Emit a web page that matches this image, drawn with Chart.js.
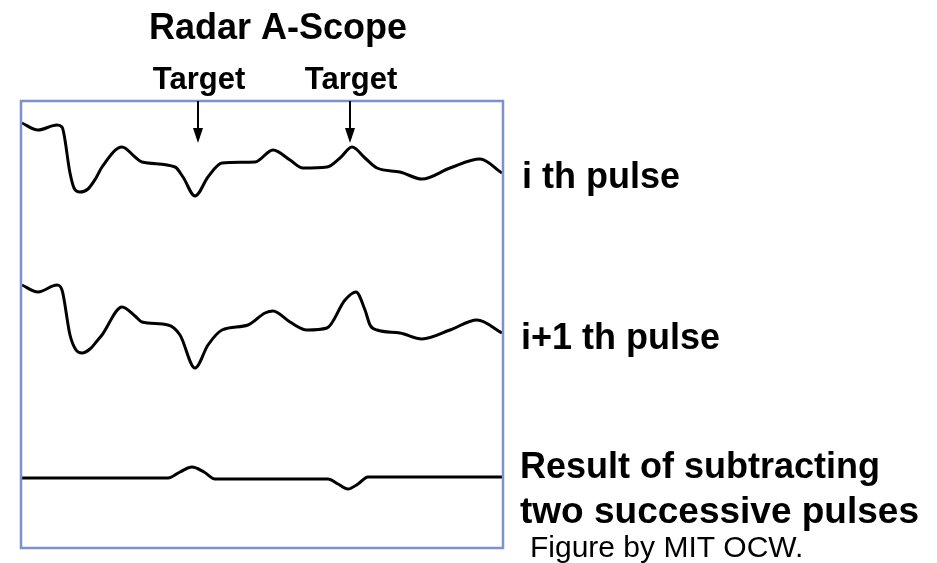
<!DOCTYPE html>
<html>
<head>
<meta charset="utf-8">
<script src="https://cdn.jsdelivr.net/npm/chart.js@4"></script>
<style>
  body { margin: 0; background: #fff; }
  #wrap { width: 937px; height: 563px; }
</style>
</head>
<body>
<div id="wrap"><canvas id="canvas" width="937" height="563"></canvas></div>
<script>
// range (sweep position) and amplitude
let pulse1_x = [0, 16, 35, 40, 48, 52, 58, 66, 74, 80, 100, 113, 120, 153, 161, 173, 186, 200, 233, 251, 268, 281, 305, 318, 330, 343, 355, 378, 400, 428, 458, 480];
let pulse1_y = [425, 418, 423, 421, 375, 360, 356, 359, 370, 381, 401, 391, 386, 381, 371, 352, 371, 385, 386, 398, 388, 380, 381, 390, 401, 390, 380, 376, 369, 380, 389, 375];

let pulse2_x = [0, 16, 35, 40, 48, 54, 60, 68, 75, 80, 100, 113, 120, 146, 158, 173, 186, 200, 226, 243, 251, 268, 285, 305, 323, 334, 343, 348, 355, 378, 400, 428, 455, 480];
let pulse2_y = [263, 256, 263, 258, 213, 198, 195, 199, 207, 213, 241, 232, 226, 223, 213, 180, 203, 218, 223, 235, 237, 226, 218, 220, 248, 256, 238, 223, 218, 215, 209, 218, 228, 215];

let diff_x = [0, 146, 158, 170, 182, 193, 306, 316, 326, 336, 346, 480];
let diff_y = [70, 70, 76, 81, 76, 69, 69, 64, 59, 64, 71, 71];

let targets = [176, 328];
let target_labels = ['Target', 'Target'];
let trace_labels = [['i th pulse'], ['i+1 th pulse'], ['Result of subtracting', 'two successive pulses']];

function toPoints(xs, ys) {
  let pts = [];
  for (let i = 0; i < xs.length; i++) {
    pts.push({x: xs[i], y: ys[i]});
  }
  return pts;
}

let scopeDecor = {
  id: 'scopeDecor',
  afterDraw(chart) {
    let ctx = chart.ctx;
    let a = chart.chartArea;
    let xs = chart.scales.x;

    ctx.save();
    // scope frame
    ctx.strokeStyle = '#7d91cd';
    ctx.lineWidth = 2.5;
    ctx.strokeRect(a.left, a.top, a.right - a.left, a.bottom - a.top);

    ctx.fillStyle = '#000';
    ctx.strokeStyle = '#000';
    ctx.textBaseline = 'alphabetic';

    ctx.font = 'bold 36px "Liberation Sans", Arial, sans-serif';
    ctx.textAlign = 'center';
    ctx.fillText('Radar A-Scope', 278, 39);

    // target arrows
    ctx.font = 'bold 31px "Liberation Sans", Arial, sans-serif';
    for (let i = 0; i < targets.length; i++) {
      let px = xs.getPixelForValue(targets[i]);
      ctx.fillText(target_labels[i], px + 1, 89);
      ctx.lineWidth = 2;
      ctx.beginPath();
      ctx.moveTo(px, a.top);
      ctx.lineTo(px, a.top + 30);
      ctx.stroke();
      ctx.beginPath();
      ctx.moveTo(px - 5, a.top + 27);
      ctx.lineTo(px + 5, a.top + 27);
      ctx.lineTo(px, a.top + 42);
      ctx.closePath();
      ctx.fill();
    }

    // labels beside each trace
    ctx.textAlign = 'left';
    ctx.font = 'bold 36px "Liberation Sans", Arial, sans-serif';
    ctx.fillText(trace_labels[0][0], 522, 188);
    ctx.fillText(trace_labels[1][0], 521, 349);
    ctx.fillText(trace_labels[2][0], 520, 478);
    ctx.font = 'bold 37px "Liberation Sans", Arial, sans-serif';
    ctx.fillText(trace_labels[2][1], 520, 523);

    ctx.font = '30px "Liberation Sans", Arial, sans-serif';
    ctx.fillText('Figure by MIT OCW.', 530, 557);
    ctx.restore();
  }
};

let lineStyle = {
  borderColor: '#000',
  borderWidth: 3,
  pointRadius: 0,
  fill: false,
  cubicInterpolationMode: 'monotone'
};

let configuracao = {
  type: 'line',
  data: {
    datasets: [
      Object.assign({label: 'i th pulse', data: toPoints(pulse1_x, pulse1_y)}, lineStyle),
      Object.assign({label: 'i+1 th pulse', data: toPoints(pulse2_x, pulse2_y)}, lineStyle),
      Object.assign({label: 'Result of subtracting two successive pulses', data: toPoints(diff_x, diff_y)}, lineStyle)
    ]
  },
  options: {
    responsive: false,
    animation: false,
    layout: {
      padding: {left: 21, top: 101, right: 434, bottom: 15}
    },
    scales: {
      x: {type: 'linear', min: -1, max: 481, display: false},
      y: {min: 0, max: 447, display: false}
    },
    plugins: {
      legend: {display: false},
      tooltip: {enabled: false}
    }
  },
  plugins: [scopeDecor]
};

let chart = new Chart(document.getElementById('canvas'), configuracao);
</script>
</body>
</html>
